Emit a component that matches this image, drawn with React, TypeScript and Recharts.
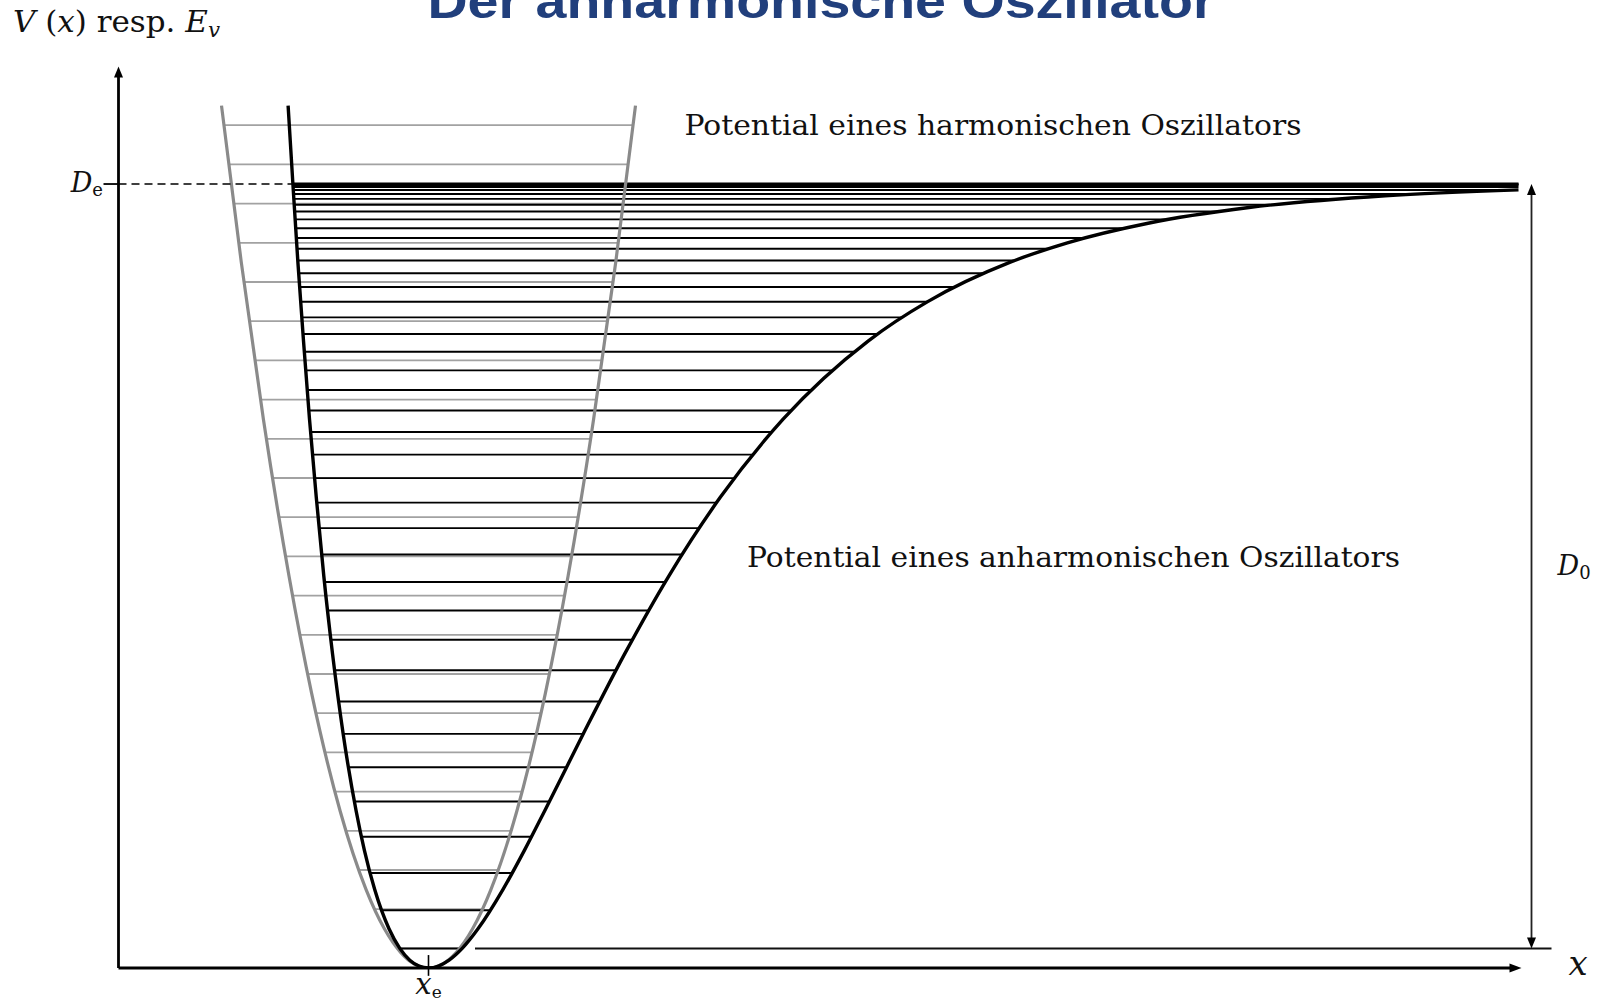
import { LineChart, Line, XAxis, YAxis, ReferenceLine, ReferenceDot } from "recharts";

// Energie in Einheiten von hbar*omega, x in willkürlichen Einheiten
const De = 20;
const xe = 3.1;
const zeroPoint = 0.497;
const yTop = 23;
const xEnd = 14.03;
const d0X = 14.13;

// anharmonisches (Morse-)Potential
const morseCurveX = [
	1.696, 1.744, 1.794, 1.85, 1.91, 1.978, 2.053, 2.141, 2.245, 2.377, 2.459, 2.562, 2.705, 2.813, 2.913, 3.005, 3.1,
	3.2, 3.306, 3.437, 3.595, 3.844, 4.059, 4.26, 4.653, 5.059, 5.503, 6.016, 6.646, 7.499, 8.092, 8.912, 9.489, 10.296,
	11.305, 12.667, 14.0,
];
const morseCurveY = [
	22, 20, 18, 16, 14, 12, 10, 8, 6, 4, 3, 2, 1, 0.5, 0.2, 0.05, 0, 0.05, 0.2, 0.5, 1, 2, 3, 4, 6, 8, 10, 12, 14, 16, 17,
	18, 18.5, 19, 19.4, 19.7, 19.85,
];

// harmonisches Potential
const harmonicCurveX = [1.03, 1.228, 1.449, 1.705, 1.932, 2.217, 2.476, 2.659, 2.821, 2.96, 3.1, 3.24, 3.379, 3.541, 3.724, 3.983, 4.268, 4.496, 4.751, 4.972, 5.17];
const harmonicCurveY = [22, 18, 14, 10, 7, 4, 2, 1, 0.4, 0.1, 0, 0.1, 0.4, 1, 2, 4, 7, 10, 14, 18, 22];

// Schwingungsniveaus Morse
const morseLevels = [
	0.497, 1.472, 2.422, 3.347, 4.247, 5.122, 5.972, 6.797, 7.597, 8.372, 9.122, 9.847, 10.547, 11.222, 11.872, 12.497,
	13.097, 13.672, 14.222, 14.747, 15.247, 15.722, 16.172, 16.597, 16.997, 17.372, 17.722, 18.047, 18.347, 18.622,
	18.872, 19.097, 19.297, 19.472, 19.622, 19.747, 19.847, 19.922, 19.972, 19.997,
];
const morseLevelLeft = [
	2.814, 2.63, 2.516, 2.429, 2.358, 2.299, 2.247, 2.201, 2.16, 2.124, 2.09, 2.06, 2.032, 2.006, 1.982, 1.96, 1.94,
	1.921, 1.903, 1.887, 1.872, 1.858, 1.845, 1.833, 1.822, 1.811, 1.802, 1.793, 1.785, 1.778, 1.772, 1.766, 1.761,
	1.756, 1.753, 1.75, 1.747, 1.745, 1.744, 1.744,
];
const morseLevelRight = [
	3.436, 3.719, 3.937, 4.13, 4.309, 4.481, 4.647, 4.812, 4.975, 5.138, 5.302, 5.467, 5.635, 5.806, 5.981, 6.159, 6.342,
	6.531, 6.727, 6.93, 7.14, 7.36, 7.591, 7.834, 8.09, 8.361, 8.649, 8.959, 9.295, 9.655, 10.056, 10.499, 10.995,
	11.554, 12.213, 13.004, 13.99, 14.0, 14.0, 14.0,
];

// Schwingungsniveaus harmonisch
const harmonicLevels = [
	0.5, 1.5, 2.5, 3.5, 4.5, 5.5, 6.5, 7.5, 8.5, 9.5, 10.5, 11.5, 12.5, 13.5, 14.5, 15.5, 16.5, 17.5, 18.5, 19.5, 20.5, 21.5,
];
const harmonicLevelLeft = [
	2.788, 2.56, 2.402, 2.274, 2.164, 2.065, 1.975, 1.892, 1.813, 1.74, 1.67, 1.604, 1.54, 1.479, 1.42, 1.363, 1.307,
	1.254, 1.202, 1.151, 1.102, 1.054,
];
const harmonicLevelRight = [
	3.412, 3.641, 3.798, 3.926, 4.036, 4.135, 4.225, 4.309, 4.387, 4.46, 4.53, 4.597, 4.66, 4.721, 4.78, 4.837, 4.893,
	4.946, 4.998, 5.049, 5.098, 5.146,
];

const morseCurve = morseCurveX.map((x, i) => ({ x, y: morseCurveY[i] }));
const harmonicCurve = harmonicCurveX.map((x, i) => ({ x, y: harmonicCurveY[i] }));

const SERIF = "'DejaVu Serif', serif";
const GRAY_CURVE = "#8a8a8a";
const GRAY_LEVEL = "#a2a2a2";

const arrow = (dir: "up" | "down" | "right") => (p: any) => {
	const { cx, cy } = p;
	let d = "";
	if (dir === "up") d = `M${cx},${cy} L${cx - 4.5},${cy + 11} L${cx + 4.5},${cy + 11} Z`;
	if (dir === "down") d = `M${cx},${cy} L${cx - 4.5},${cy - 11} L${cx + 4.5},${cy - 11} Z`;
	if (dir === "right") d = `M${cx},${cy} L${cx - 12},${cy - 4.5} L${cx - 12},${cy + 4.5} Z`;
	return <path d={d} fill='#000' />;
};

const label = (render: (cx: number, cy: number) => any) => (p: any) => render(p.cx, p.cy);

export default function App() {
	return (
		<div style={{ position: "absolute", left: 0, top: 0, width: 1604, height: 1005, background: "#fff" }}>
			<LineChart
				width={1604}
				height={1005}
				margin={{ top: 62.5, left: 118.5, right: 5.5, bottom: 37 }}
			>
				<XAxis type='number' dataKey='x' domain={[0, 14.8]} hide allowDataOverflow />
				<YAxis type='number' dataKey='y' domain={[0, 23.1]} hide allowDataOverflow />

				{harmonicLevels.map((e, i) => (
					<ReferenceLine
						key={"h" + i}
						segment={[
							{ x: harmonicLevelLeft[i], y: e },
							{ x: harmonicLevelRight[i], y: e },
						]}
						stroke={GRAY_LEVEL}
						strokeWidth={1.8}
					/>
				))}
				{morseLevels.map((e, i) => (
					<ReferenceLine
						key={"m" + i}
						segment={[
							{ x: morseLevelLeft[i], y: e },
							{ x: morseLevelRight[i], y: e },
						]}
						stroke='#000'
						strokeWidth={1.9}
					/>
				))}
				{/* Dissoziationsgrenze */}
				<ReferenceLine
					segment={[{ x: morseLevelLeft[morseLevelLeft.length - 1], y: De }, { x: 14.0, y: De }]}
					stroke='#000'
					strokeWidth={3}
				/>

				<Line
					data={harmonicCurve}
					dataKey='y'
					type='monotone'
					stroke={GRAY_CURVE}
					strokeWidth={3.2}
					dot={false}
					activeDot={false}
					isAnimationActive={false}
				/>
				<Line
					data={morseCurve}
					dataKey='y'
					type='monotone'
					stroke='#000'
					strokeWidth={3.4}
					dot={false}
					activeDot={false}
					isAnimationActive={false}
				/>

				{/* Achsen */}
				<ReferenceLine segment={[{ x: 0, y: 0 }, { x: 0, y: yTop - 0.2 }]} stroke='#000' strokeWidth={2.8} />
				<ReferenceLine segment={[{ x: 0, y: 0 }, { x: xEnd - 0.1, y: 0 }]} stroke='#000' strokeWidth={2.8} />
				<ReferenceDot x={0} y={yTop} r={0} shape={arrow("up")} />
				<ReferenceDot x={xEnd} y={0} r={0} shape={arrow("right")} />

				{/* D_e Markierung */}
				<ReferenceLine
					segment={[{ x: -0.15, y: De }, { x: 0, y: De }]}
					stroke='#000'
					strokeWidth={1.8}
					ifOverflow='visible'
				/>
				<ReferenceLine
					segment={[{ x: 0, y: De }, { x: morseLevelLeft[morseLevelLeft.length - 1], y: De }]}
					stroke='#000'
					strokeWidth={1.6}
					strokeDasharray='8 5'
				/>

				{/* x_e Markierung */}
				<ReferenceLine
					segment={[{ x: xe, y: 0.33 }, { x: xe, y: -0.2 }]}
					stroke='#000'
					strokeWidth={1.6}
					ifOverflow='visible'
				/>

				{/* Nullpunktslinie und D_0 */}
				<ReferenceLine
					segment={[{ x: 3.565, y: zeroPoint }, { x: 14.33, y: zeroPoint }]}
					stroke='#111'
					strokeWidth={2}
				/>
				<ReferenceLine
					segment={[{ x: d0X, y: zeroPoint + 0.2 }, { x: d0X, y: De - 0.2 }]}
					stroke='#222'
					strokeWidth={1.8}
				/>
				<ReferenceDot x={d0X} y={De} r={0} shape={arrow("up")} />
				<ReferenceDot x={d0X} y={zeroPoint} r={0} shape={arrow("down")} />

				{/* Beschriftungen */}
				<ReferenceDot
					x={5.66}
					y={21.25}
					r={0}
					shape={label((cx, cy) => (
						<text x={cx} y={cy} fontFamily={SERIF} fontSize={28} fill='#111' textLength={617} lengthAdjust='spacingAndGlyphs'>
							Potential eines harmonischen Oszillators
						</text>
					))}
				/>
				<ReferenceDot
					x={6.285}
					y={10.22}
					r={0}
					shape={label((cx, cy) => (
						<text x={cx} y={cy} fontFamily={SERIF} fontSize={28} fill='#111' textLength={653} lengthAdjust='spacingAndGlyphs'>
							Potential eines anharmonischen Oszillators
						</text>
					))}
				/>
				<ReferenceDot
					x={-0.155}
					y={19.8}
					r={0}
					ifOverflow='visible'
					shape={label((cx, cy) => (
						<text x={cx} y={cy} fontFamily={SERIF} fontSize={27} fill='#111' textAnchor='end'>
							<tspan fontStyle='italic'>D</tspan>
							<tspan fontSize={18} dy={4}>e</tspan>
						</text>
					))}
				/>
				<ReferenceDot
					x={xe}
					y={-0.66}
					r={0}
					ifOverflow='visible'
					shape={label((cx, cy) => (
						<text x={cx} y={cy} fontFamily={SERIF} fontSize={29} fill='#111' textAnchor='middle'>
							<tspan fontStyle='italic'>x</tspan>
							<tspan fontSize={17} dy={4}>e</tspan>
						</text>
					))}
				/>
				<ReferenceDot
					x={14.39}
					y={10.03}
					r={0}
					ifOverflow='visible'
					shape={label((cx, cy) => (
						<text x={cx} y={cy} fontFamily={SERIF} fontSize={27} fill='#111'>
							<tspan fontStyle='italic'>D</tspan>
							<tspan fontSize={18} dy={4}>0</tspan>
						</text>
					))}
				/>
				<ReferenceDot
					x={14.5}
					y={-0.18}
					r={0}
					ifOverflow='visible'
					shape={label((cx, cy) => (
						<text x={cx} y={cy} fontFamily={SERIF} fontSize={34} fontStyle='italic' fill='#111'>
							x
						</text>
					))}
				/>
			</LineChart>

			<svg
				width={1604}
				height={1005}
				style={{ position: "absolute", left: 0, top: 0, pointerEvents: "none" }}
			>
				<text
					x={821}
					y={18}
					textAnchor='middle'
					fontFamily="'Liberation Sans', Arial, sans-serif"
					fontWeight='bold'
					fontSize={48}
					fill='#213f7c'
					textLength={787}
					lengthAdjust='spacingAndGlyphs'
				>
					Der anharmonische Oszillator
				</text>
				<text x={13} y={32} fontFamily={SERIF} fontSize={29} fill='#111' textLength={207} lengthAdjust='spacingAndGlyphs'>
					<tspan fontStyle='italic'>V</tspan>
					<tspan> (</tspan>
					<tspan fontStyle='italic'>x</tspan>
					<tspan>) resp. </tspan>
					<tspan fontStyle='italic'>E</tspan>
					<tspan fontStyle='italic' fontSize={20} dy={5}>
						v
					</tspan>
				</text>
			</svg>
		</div>
	);
}
